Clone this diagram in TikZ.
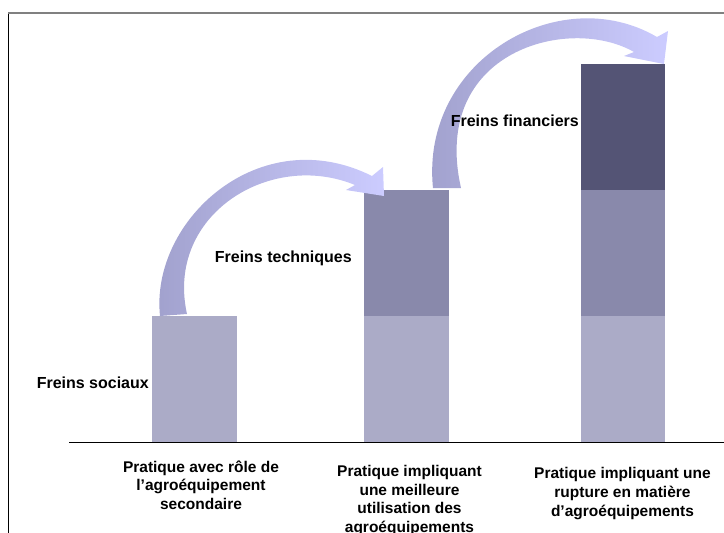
\documentclass[tikz,border=0pt]{standalone}
\usepackage{fontspec}
\setmainfont{Liberation Sans}
\definecolor{barlight}{RGB}{171,171,199}
\definecolor{barmid}{RGB}{137,137,171}
\definecolor{bardark}{RGB}{84,84,117}
\definecolor{arrowdark}{RGB}{160,160,204}
\definecolor{arrowlight}{RGB}{204,204,255}
\tikzset{
  lbl/.style={font=\fontsize{15.5}{18.7}\selectfont\bfseries, inner sep=0pt},
  practice/.style={lbl, align=center, anchor=north},
  brake/.style={lbl, font=\fontsize{16}{19}\selectfont\bfseries, anchor=base east},
  flow/.style={left color=arrowdark, right color=arrowlight},
}
\begin{document}
\begin{tikzpicture}[x=1pt, y=-1pt]
\useasboundingbox (0,0) rectangle (724,533);
\draw[black, line width=1pt] (8.5,13) -- (8.5,533);
\draw[gray, line width=1.4pt] (8,13) -- (724,13);

\fill[barlight] (152,316) rectangle (237,442);
\fill[barlight] (364,316) rectangle (449,442);
\fill[barmid] (364,190) rectangle (449,316);
\fill[barlight] (581,316) rectangle (665,442);
\fill[barmid] (581,190) rectangle (665,316);
\fill[bardark] (581,64) rectangle (665,190);

\draw[black, line width=1pt] (69,442) -- (724,442);

\shade[flow] (160,316) .. controls (150,220) and (260,120) .. (372,176)
  -- (383,167) -- (384,196) -- (346,190) -- (355,185)
  .. controls (270,150) and (165,215) .. (187,314) -- cycle;
\shade[flow] (433,188) .. controls (420,60) and (560,-20) .. (657,37)
  -- (668,31) -- (664,64) -- (624,56) -- (634,52)
  .. controls (570,15) and (430,50) .. (461,188) -- cycle;

\node[brake] (sociaux) at (149,388) {Freins sociaux};
\node[brake] (techniques) at (352,262) {Freins techniques};
\node[brake] (financiers) at (579,126) {Freins financiers};

\node[practice] (secondaire) at (201,460.5) {Pratique avec rôle de\\l’agroéquipement\\secondaire};
\node[practice] (meilleure) at (409.5,465) {Pratique impliquant\\une meilleure\\utilisation des\\agroéquipements};
\node[practice] (rupture) at (622.5,467.5) {Pratique impliquant une\\rupture en matière\\d’agroéquipements};
\end{tikzpicture}
\end{document}
